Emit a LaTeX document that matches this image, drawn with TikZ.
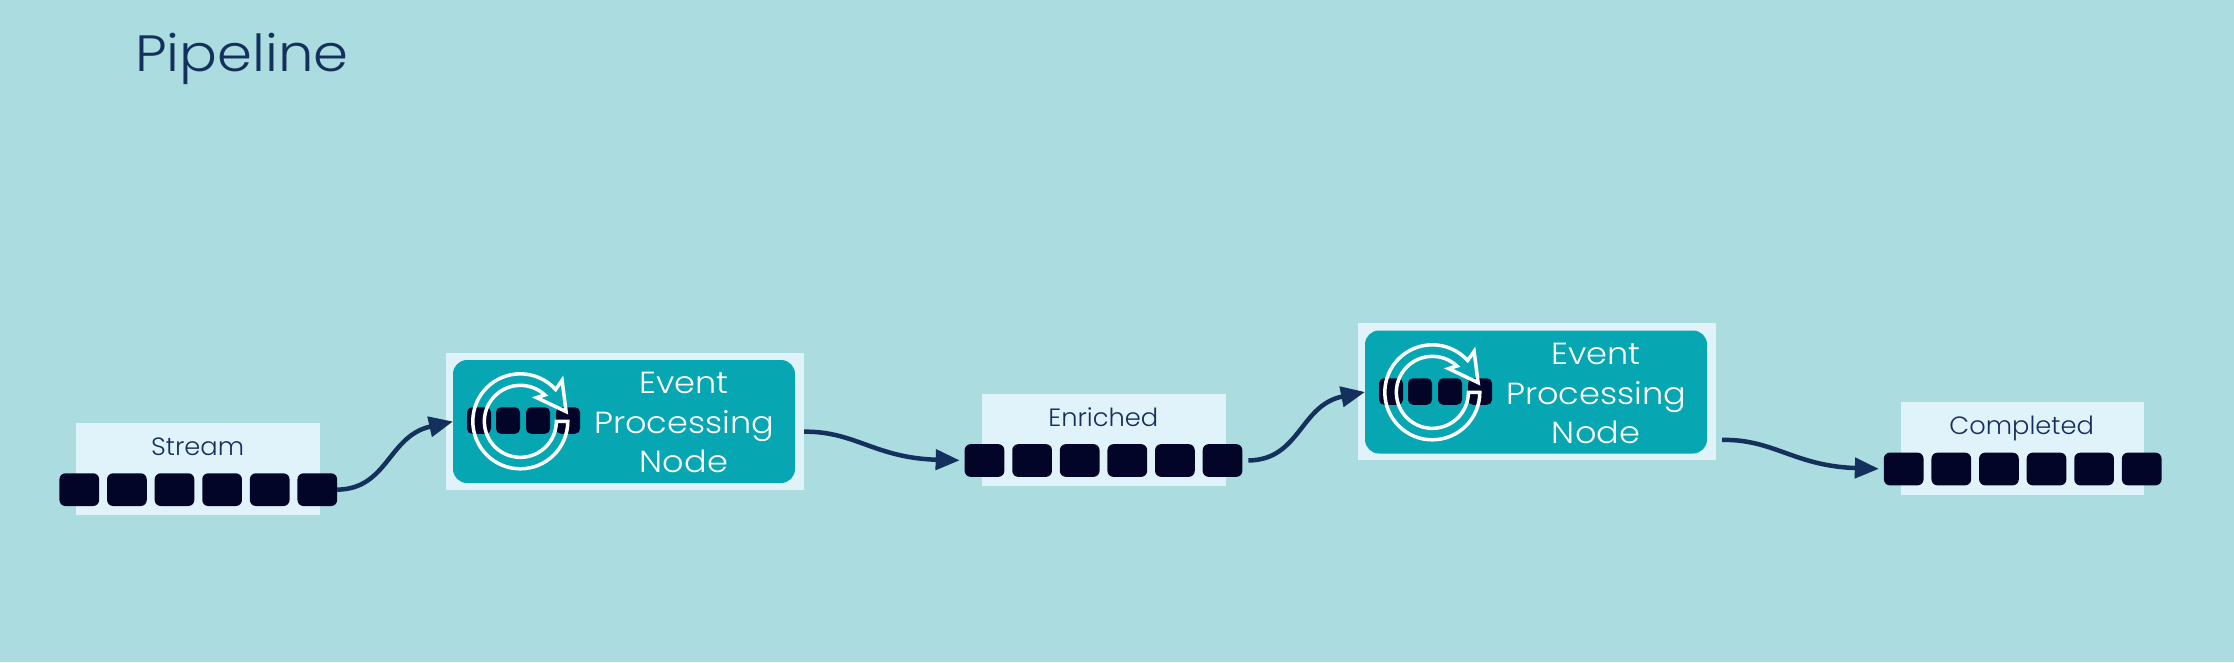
\documentclass[tikz,border=0pt]{standalone}
\usepackage{fontspec}
\setmainfont{Poppins Light}[FakeStretch=1.1]
\newfontfamily\qfont{Poppins Light}[FakeStretch=1.03]
\usetikzlibrary{arrows.meta}
\definecolor{bgc}{HTML}{ABDCE0}
\definecolor{panelc}{HTML}{E1F3FA}
\definecolor{tealc}{HTML}{06A7B2}
\definecolor{inkc}{HTML}{14305C}
\definecolor{squarec}{HTML}{020528}
\tikzset{
  panelbox/.style={fill=panelc,draw=none,inner sep=0pt,outer sep=0pt},
  tealbox/.style={fill=tealc,draw=none,rounded corners=14pt,inner sep=0pt,outer sep=0pt,minimum width=342pt,minimum height=123pt},
  cell/.style={fill=squarec,draw=none,rounded corners=6pt,inner sep=0pt,outer sep=0pt,minimum width=39.7pt,minimum height=32.7pt},
  smallcell/.style={fill=squarec,draw=none,rounded corners=5pt,inner sep=0pt,outer sep=0pt,minimum width=24pt,minimum height=26.5pt},
  qlabel/.style={text=inkc,anchor=base,inner sep=0pt,font=\qfont\fontsize{25}{30}\selectfont},
  eventlabel/.style={text=white,align=center,inner sep=0pt,font=\fontsize{30.5}{39.5}\selectfont},
  flow/.style={draw=inkc,line width=4.5pt,-{Triangle[length=24pt,width=20pt]}},
  cycleicon/.pic={
    \draw[white,line width=3.5pt,line join=miter]
      (47.5,0) arc[start angle=0,end angle=-318,radius=47.5pt]
      -- (41.8,-41) -- (45.8,-9.7) -- (16.3,-23.7) -- (24.6,-26.3)
      arc[start angle=47,end angle=360,radius=36pt] -- cycle;
  }
}
\begin{document}
\begin{tikzpicture}[x=1pt,y=-1pt]
\useasboundingbox (0,0) rectangle (2234,662);
\fill[bgc] (0,0) rectangle (2234,662);
\node[text=inkc,anchor=base west,inner sep=0pt,font=\fontsize{51}{60}\selectfont] (title) at (135,71.7) {Pipeline};

% Stream
\node[panelbox,minimum width=243.7pt,minimum height=92.6pt] (streambox) at (198.1,469) {};
\node[qlabel] (streamlabel) at (197.7,455) {Stream};
\foreach \i in {1,...,6}{\node[cell] (s\i) at ({79.3+47.6*(\i-1)},489.65) {};}

% Node 1
\node[panelbox,minimum width=358pt,minimum height=137pt] (panelA) at (625,421.5) {};
\node[tealbox] (tealA) at (624,421.5) {};
\foreach \i/\px in {1/479,2/508,3/538,4/568}{\node[smallcell] (a\i) at (\px,420.5) {};}
\pic at (520.3,421.3) {cycleicon};
\node[eventlabel] (labelA) at (684,422.5) {Event\\Processing\\Node};

% Enriched
\node[panelbox,minimum width=244pt,minimum height=92.3pt] (enrichedbox) at (1103.7,439.85) {};
\node[qlabel] (enrichedlabel) at (1103.3,426.5) {Enriched};
\foreach \i in {1,...,6}{\node[cell] (e\i) at ({984.5+47.6*(\i-1)},460.5) {};}

% Node 2
\node[panelbox,minimum width=358pt,minimum height=137pt] (panelB) at (1537,391.5) {};
\node[tealbox] (tealB) at (1536,392) {};
\foreach \i/\px in {1/1391,2/1420,3/1450,4/1480}{\node[smallcell] (b\i) at (\px,391.5) {};}
\pic at (1432.3,392.3) {cycleicon};
\node[eventlabel] (labelB) at (1596,393.5) {Event\\Processing\\Node};

% Completed
\node[panelbox,minimum width=243.3pt,minimum height=92.7pt] (completedbox) at (2022.3,448.65) {};
\node[qlabel] (completedlabel) at (2021.7,434.3) {Completed};
\foreach \i in {1,...,6}{\node[cell] (c\i) at ({1903.7+47.6*(\i-1)},469) {};}

% Connectors
\coordinate (outA) at (panelA.east |- 0,431.7);
\coordinate (outB) at (panelB.east |- 0,440);
\draw[flow] (s6.east) .. controls (388,489) and (388,436) .. (tealA.west);
\draw[flow,shorten >=5pt] (outA) .. controls (855,431) and (875,458) .. (e1.west);
\draw[flow,shorten <=6pt] (e6.east) .. controls (1300,460) and (1300,405) .. (tealB.west);
\draw[flow,shorten >=5pt,shorten <=6pt] (outB) .. controls (1774,439) and (1794,466) .. (c1.west);
\end{tikzpicture}
\end{document}
